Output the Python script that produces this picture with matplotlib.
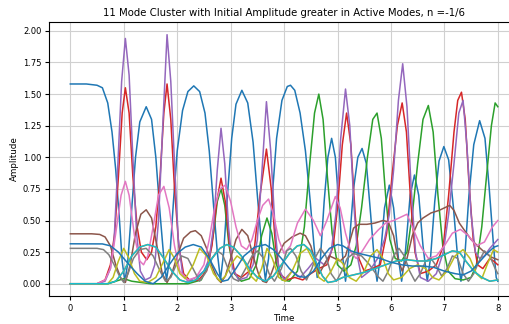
import matplotlib
matplotlib.use("Agg")
import matplotlib.pyplot as plt

# mode amplitudes, (time, amplitude) key points per mode
t_blue = [0, 0.3, 0.5, 0.6, 0.7, 0.78, 0.85, 0.92, 0.97, 1.02, 1.07, 1.15, 1.22, 1.3, 1.42, 1.52, 1.6, 1.68, 1.75, 1.8,
          1.86, 1.93, 2.0, 2.1, 2.2, 2.31, 2.42, 2.52, 2.6, 2.68, 2.75, 2.81, 2.87, 2.94, 3.02, 3.1, 3.21, 3.32, 3.42,
          3.5, 3.58, 3.65, 3.71, 3.78, 3.86, 3.96, 4.06, 4.12, 4.2, 4.3, 4.4, 4.49, 4.56, 4.62, 4.68, 4.75, 4.82, 4.89,
          4.96, 5.03, 5.1, 5.15, 5.2, 5.3, 5.38, 5.46, 5.54, 5.62, 5.69, 5.74, 5.8, 5.88, 5.97, 6.05, 6.14, 6.2, 6.27,
          6.36, 6.44, 6.52, 6.6, 6.68, 6.74, 6.82, 6.9, 6.99, 7.08, 7.17, 7.25, 7.31, 7.38, 7.46, 7.55, 7.66, 7.76,
          7.84, 7.92, 7.97, 8.0]
a_blue = [1.58, 1.58, 1.57, 1.55, 1.43, 1.2, 0.9, 0.5, 0.18, 0.02, 0.15, 0.6, 1.0, 1.28, 1.40, 1.3, 1.0, 0.55, 0.2, 0.03,
          0.2, 0.65, 1.05, 1.37, 1.52, 1.565, 1.52, 1.35, 1.05, 0.62, 0.25, 0.03, 0.25, 0.7, 1.15, 1.42, 1.53, 1.43, 1.12,
          0.7, 0.3, 0.03, 0.2, 0.7, 1.15, 1.45, 1.56, 1.57, 1.53, 1.35, 1.05, 0.65, 0.3, 0.05, 0.2, 0.65, 1.0, 1.15,
          1.0, 0.6, 0.2, 0.02, 0.2, 0.75, 1.0, 1.07, 0.95, 0.55, 0.18, 0.02, 0.2, 0.6, 0.78, 0.6, 0.2, 0.02, 0.25,
          0.7, 0.86, 0.7, 0.3, 0.02, 0.2, 0.65, 0.97, 1.085, 0.98, 0.6, 0.2, 0.02, 0.2, 0.7, 1.1, 1.29, 1.15,
          0.75, 0.3, 0.05, 0.02]

t_green = [0, 0.7, 0.85, 1.0, 1.15, 1.5, 2.2, 2.45, 2.58, 2.68, 2.75, 2.82, 2.89, 2.97, 3.07, 3.2, 3.35, 3.48, 3.58,
           3.68, 3.77, 3.86, 3.96, 4.1, 4.25, 4.38, 4.48, 4.57, 4.65, 4.73, 4.81, 4.9, 5.0, 5.12, 5.25, 5.35, 5.45,
           5.56, 5.66, 5.74, 5.82, 5.9, 5.98, 6.08, 6.2, 6.3, 6.4, 6.5, 6.6, 6.7, 6.79, 6.88, 6.97, 7.07, 7.2, 7.35,
           7.5, 7.6, 7.7, 7.8, 7.88, 7.95, 8.0]
a_green = [0, 0, 0.02, 0.04, 0.02, 0.0, 0.0, 0.03, 0.15, 0.4, 0.65, 0.75, 0.62, 0.3, 0.08, 0.02, 0.04, 0.15, 0.38,
           0.52, 0.4, 0.15, 0.03, 0.02, 0.1, 0.45, 0.95, 1.35, 1.50, 1.3, 0.85, 0.4, 0.15, 0.1, 0.15, 0.3, 0.6,
           1.0, 1.3, 1.35, 1.15, 0.7, 0.35, 0.2, 0.18, 0.25, 0.55, 0.95, 1.3, 1.41, 1.2, 0.7, 0.3, 0.1, 0.04, 0.03,
           0.05, 0.15, 0.45, 0.9, 1.25, 1.43, 1.4]

t_red = [0, 0.5, 0.65, 0.75, 0.83, 0.9, 0.97, 1.03, 1.1, 1.17, 1.25, 1.33, 1.43, 1.52, 1.6, 1.68, 1.75, 1.81, 1.88,
         1.95, 2.03, 2.12, 2.25, 2.4, 2.55, 2.65, 2.74, 2.82, 2.9, 2.98, 3.08, 3.2, 3.35, 3.45, 3.55, 3.67, 3.76,
         3.84, 3.92, 4.05, 4.2, 4.35, 4.5, 4.65, 4.8, 4.92, 5.0, 5.09, 5.17, 5.25, 5.33, 5.4, 5.5, 5.65, 5.8, 5.92,
         6.02, 6.12, 6.21, 6.29, 6.37, 6.45, 6.55, 6.7, 6.85, 6.98, 7.08, 7.18, 7.25, 7.32, 7.39, 7.46, 7.54, 7.62,
         7.72, 7.85, 7.92, 8.0]
a_red = [0, 0, 0.03, 0.15, 0.4, 0.85, 1.35, 1.55, 1.35, 0.85, 0.45, 0.25, 0.19, 0.25, 0.45, 0.85, 1.35, 1.58, 1.3,
         0.75, 0.3, 0.08, 0.02, 0.03, 0.1, 0.3, 0.65, 0.835, 0.65, 0.3, 0.08, 0.05, 0.1, 0.3, 0.7, 1.065, 0.75,
         0.3, 0.08, 0.03, 0.05, 0.03, 0.08, 0.12, 0.15, 0.3, 0.6, 1.1, 1.35, 1.1, 0.55, 0.2, 0.1, 0.12, 0.15, 0.4,
         0.85, 1.25, 1.43, 1.2, 0.65, 0.25, 0.08, 0.1, 0.15, 0.3, 0.7, 1.2, 1.45, 1.515, 1.3, 0.8, 0.35, 0.15,
         0.12, 0.2, 0.18, 0.15]

t_purple = [0, 0.5, 0.65, 0.75, 0.82, 0.89, 0.96, 1.03, 1.1, 1.17, 1.24, 1.31, 1.4, 1.5, 1.58, 1.65, 1.73, 1.81,
            1.88, 1.95, 2.02, 2.1, 2.2, 2.35, 2.5, 2.6, 2.68, 2.75, 2.82, 2.89, 2.96, 3.04, 3.15, 3.3, 3.42, 3.5,
            3.58, 3.67, 3.75, 3.83, 3.9, 4.0, 4.15, 4.3, 4.45, 4.6, 4.75, 4.88, 4.97, 5.06, 5.15, 5.23, 5.31, 5.38,
            5.45, 5.6, 5.75, 5.88, 5.97, 6.05, 6.14, 6.22, 6.3, 6.38, 6.46, 6.55, 6.7, 6.85, 6.98, 7.08, 7.18, 7.27,
            7.35, 7.42, 7.5, 7.58, 7.66, 7.75, 7.85, 8.0]
a_purple = [0, 0, 0.02, 0.12, 0.35, 0.95, 1.6, 1.94, 1.65, 1.0, 0.4, 0.1, 0.03, 0.05, 0.15, 0.5, 1.25, 1.97,
            1.6, 0.95, 0.35, 0.08, 0.02, 0.05, 0.1, 0.2, 0.45, 0.9, 1.23, 0.95, 0.45, 0.12, 0.03, 0.05, 0.15, 0.35,
            0.85, 1.44, 1.05, 0.45, 0.12, 0.03, 0.1, 0.05, 0.12, 0.2, 0.15, 0.25, 0.55, 1.15, 1.54, 1.25, 0.6, 0.2,
            0.05, 0.1, 0.2, 0.35, 0.55, 0.9, 1.45, 1.74, 1.4, 0.75, 0.25, 0.05, 0.02, 0.08, 0.25, 0.55, 0.95, 1.35,
            1.45, 1.1, 0.55, 0.25, 0.2, 0.22, 0.28, 0.35]

t_brown = [0, 0.4, 0.55, 0.65, 0.75, 0.85, 0.95, 1.03, 1.12, 1.22, 1.32, 1.42, 1.52, 1.62, 1.72, 1.81, 1.9, 2.0,
           2.12, 2.25, 2.34, 2.45, 2.55, 2.65, 2.75, 2.82, 2.9, 3.0, 3.1, 3.21, 3.32, 3.42, 3.52, 3.6, 3.67, 3.76,
           3.88, 4.0, 4.15, 4.3, 4.4, 4.5, 4.6, 4.66, 4.75, 4.85, 4.95, 5.05, 5.15, 5.22, 5.3, 5.4, 5.55, 5.7, 5.85,
           5.95, 6.05, 6.13, 6.21, 6.3, 6.4, 6.5, 6.6, 6.75, 6.9, 7.0, 7.1, 7.18, 7.28, 7.38, 7.5, 7.62, 7.75, 7.88,
           8.0]
a_brown = [0.395, 0.395, 0.39, 0.37, 0.3, 0.15, 0.04, 0.01, 0.15, 0.4, 0.55, 0.585, 0.52, 0.3, 0.08, 0.01, 0.08,
           0.22, 0.36, 0.41, 0.42, 0.38, 0.28, 0.14, 0.04, 0.01, 0.06, 0.2, 0.35, 0.43, 0.38, 0.22, 0.08, 0.02, 0.01,
           0.08, 0.22, 0.32, 0.37, 0.4, 0.38, 0.3, 0.15, 0.08, 0.15, 0.22, 0.2, 0.18, 0.22, 0.32, 0.44, 0.47, 0.47,
           0.48, 0.5, 0.49, 0.38, 0.2, 0.1, 0.2, 0.38, 0.48, 0.52, 0.56, 0.58, 0.6, 0.62, 0.58, 0.48, 0.42, 0.35,
           0.30, 0.25, 0.21, 0.19]

t_pink = [0, 0.5, 0.65, 0.75, 0.85, 0.95, 1.03, 1.1, 1.2, 1.3, 1.37, 1.45, 1.55, 1.65, 1.75, 1.85, 1.95, 2.05, 2.2,
          2.35, 2.5, 2.6, 2.7, 2.8, 2.9, 3.0, 3.1, 3.2, 3.3, 3.4, 3.5, 3.6, 3.71, 3.8, 3.9, 4.0, 4.12, 4.25, 4.4,
          4.55, 4.68, 4.8, 4.96, 5.05, 5.15, 5.25, 5.35, 5.45, 5.6, 5.75, 5.9, 6.05, 6.2, 6.3, 6.4, 6.55, 6.7, 6.85,
          7.0, 7.15, 7.3, 7.45, 7.6, 7.75, 7.9, 8.0]
a_pink = [0, 0, 0.03, 0.12, 0.4, 0.7, 0.81, 0.7, 0.38, 0.18, 0.15, 0.22, 0.45, 0.7, 0.77, 0.6, 0.3, 0.1, 0.03,
          0.05, 0.15, 0.35, 0.6, 0.75, 0.78, 0.65, 0.45, 0.3, 0.27, 0.35, 0.5, 0.62, 0.67, 0.55, 0.35, 0.24, 0.3,
          0.48, 0.59, 0.5, 0.38, 0.5, 0.69, 0.6, 0.4, 0.25, 0.2, 0.25, 0.35, 0.42, 0.48, 0.5, 0.53, 0.55, 0.45,
          0.3, 0.2, 0.22, 0.3, 0.4, 0.43, 0.38, 0.3, 0.33, 0.45, 0.50]

t_gray = [0, 0.5, 0.62, 0.72, 0.82, 0.92, 1.0, 1.08, 1.18, 1.3, 1.42, 1.55, 1.68, 1.78, 1.88, 1.98, 2.08, 2.2, 2.32,
          2.42, 2.52, 2.65, 2.75, 2.85, 2.95, 3.05, 3.15, 3.28, 3.4, 3.5, 3.62, 3.72, 3.82, 3.95, 4.05, 4.12, 4.22,
          4.32, 4.42, 4.52, 4.6, 4.68, 4.78, 4.88, 4.98, 5.08, 5.18, 5.3, 5.45, 5.6, 5.75, 5.85, 5.95, 6.05, 6.15,
          6.25, 6.35, 6.45, 6.55, 6.65, 6.75, 6.85, 6.95, 7.05, 7.15, 7.25, 7.35, 7.45, 7.55, 7.65, 7.75, 7.85,
          7.95, 8.0]
a_gray = [0.28, 0.28, 0.27, 0.23, 0.15, 0.06, 0.01, 0.08, 0.2, 0.27, 0.28, 0.22, 0.1, 0.02, 0.05, 0.15, 0.22, 0.2,
          0.1, 0.02, 0.08, 0.2, 0.26, 0.23, 0.12, 0.04, 0.02, 0.12, 0.22, 0.26, 0.2, 0.08, 0.02, 0.12, 0.26, 0.28,
          0.22, 0.1, 0.03, 0.12, 0.22, 0.28, 0.22, 0.08, 0.02, 0.1, 0.2, 0.24, 0.22, 0.15, 0.06, 0.02, 0.1, 0.22,
          0.28, 0.22, 0.1, 0.02, 0.08, 0.18, 0.2, 0.14, 0.06, 0.12, 0.22, 0.2, 0.08, 0.02, 0.08, 0.18, 0.26, 0.22,
          0.12, 0.08]

t_olive = [0, 0.7, 0.8, 0.9, 1.0, 1.1, 1.2, 1.3, 1.45, 1.6, 1.75, 1.85, 1.95, 2.05, 2.15, 2.3, 2.42, 2.55, 2.68,
           2.8, 2.9, 3.0, 3.12, 3.25, 3.38, 3.48, 3.58, 3.68, 3.78, 3.9, 4.02, 4.15, 4.3, 4.43, 4.55, 4.65, 4.75,
           4.88, 5.0, 5.1, 5.22, 5.35, 5.5, 5.62, 5.74, 5.85, 5.95, 6.05, 6.2, 6.35, 6.5, 6.65, 6.78, 6.9, 7.05,
           7.2, 7.35, 7.48, 7.6, 7.7, 7.8, 7.92, 8.0]
a_olive = [0, 0, 0.05, 0.18, 0.28, 0.2, 0.08, 0.02, 0.01, 0.05, 0.18, 0.27, 0.2, 0.08, 0.04, 0.15, 0.28, 0.22,
           0.08, 0.02, 0.06, 0.15, 0.22, 0.18, 0.06, 0.02, 0.12, 0.28, 0.2, 0.05, 0.02, 0.1, 0.24, 0.28, 0.18, 0.05,
           0.02, 0.1, 0.2, 0.16, 0.05, 0.02, 0.1, 0.22, 0.27, 0.2, 0.08, 0.03, 0.05, 0.12, 0.15, 0.12, 0.05, 0.03,
           0.1, 0.22, 0.27, 0.2, 0.08, 0.04, 0.15, 0.27, 0.25]

t_cyan = [0, 0.7, 0.85, 1.0, 1.15, 1.3, 1.45, 1.6, 1.75, 1.9, 2.05, 2.2, 2.35, 2.5, 2.65, 2.8, 2.93, 3.05, 3.2, 3.35,
          3.5, 3.65, 3.8, 3.95, 4.1, 4.25, 4.37, 4.5, 4.62, 4.72, 4.82, 4.95, 5.1, 5.3, 5.5, 5.7, 5.9, 6.1, 6.3,
          6.5, 6.68, 6.85, 7.0, 7.15, 7.28, 7.4, 7.55, 7.7, 7.85, 8.0]
a_cyan = [0, 0, 0.02, 0.1, 0.22, 0.29, 0.31, 0.29, 0.2, 0.1, 0.03, 0.01, 0.03, 0.1, 0.2, 0.28, 0.31, 0.29, 0.22,
          0.12, 0.05, 0.02, 0.06, 0.15, 0.24, 0.3, 0.31, 0.26, 0.15, 0.06, 0.01, 0.02, 0.05, 0.07, 0.09, 0.12, 0.15,
          0.18, 0.19, 0.18, 0.18, 0.2, 0.23, 0.26, 0.25, 0.18, 0.1, 0.05, 0.02, 0.03]

# the orange mode never shows in the reference: it sits exactly under the cyan one
t_orange = list(t_cyan)
a_orange = list(a_cyan)

t_blue2 = [0, 0.6, 0.75, 0.9, 1.0, 1.1, 1.25, 1.4, 1.55, 1.7, 1.85, 2.0, 2.15, 2.3, 2.45, 2.6, 2.75, 2.85, 2.95,
           3.1, 3.25, 3.45, 3.65, 3.8, 3.95, 4.1, 4.25, 4.4, 4.55, 4.7, 4.85, 5.0, 5.1, 5.25, 5.4, 5.6, 5.8, 6.0,
           6.2, 6.4, 6.6, 6.8, 7.0, 7.2, 7.35, 7.5, 7.65, 7.8, 7.93, 8.0]
a_blue2 = [0.316, 0.315, 0.3, 0.25, 0.2, 0.15, 0.08, 0.02, 0.0, 0.05, 0.15, 0.24, 0.29, 0.31, 0.29, 0.2, 0.08,
           0.02, 0.03, 0.12, 0.22, 0.29, 0.31, 0.27, 0.2, 0.12, 0.06, 0.05, 0.1, 0.2, 0.28, 0.31, 0.3, 0.26, 0.24,
           0.22, 0.2, 0.17, 0.15, 0.14, 0.14, 0.13, 0.1, 0.08, 0.07, 0.1, 0.17, 0.24, 0.29, 0.3]

modes = [(t_blue, a_blue), (t_orange, a_orange), (t_green, a_green), (t_red, a_red),
         (t_purple, a_purple), (t_brown, a_brown), (t_pink, a_pink), (t_gray, a_gray),
         (t_olive, a_olive), (t_cyan, a_cyan), (t_blue2, a_blue2)]

fig = plt.figure(figsize=(5.1, 3.24), dpi=100)
# the original image is cropped on the right, so the axes runs past the figure edge
ax = fig.add_axes([0.096, 0.086, 0.922, 0.846])

for t, a in modes:
    ax.plot(t, a, lw=1.1)

ax.set_xlim(-0.4, 8.4)
ax.set_ylim(-0.098, 2.07)
ax.set_xticks(range(9))
ax.set_yticks([0, 0.25, 0.5, 0.75, 1.0, 1.25, 1.5, 1.75, 2.0])
ax.grid(True, color='#d0d0d0', lw=0.8)
ax.tick_params(labelsize=6, length=3, pad=2.5)
ax.set_title('11 Mode Cluster with Initial Amplitude greater in Active Modes, n =-1/6', fontsize=7.3, pad=4)
ax.set_xlabel('Time', fontsize=6.3, labelpad=1)
ax.set_ylabel('Amplitude', fontsize=6.3, labelpad=3)

fig.savefig('out.png', dpi=100)
